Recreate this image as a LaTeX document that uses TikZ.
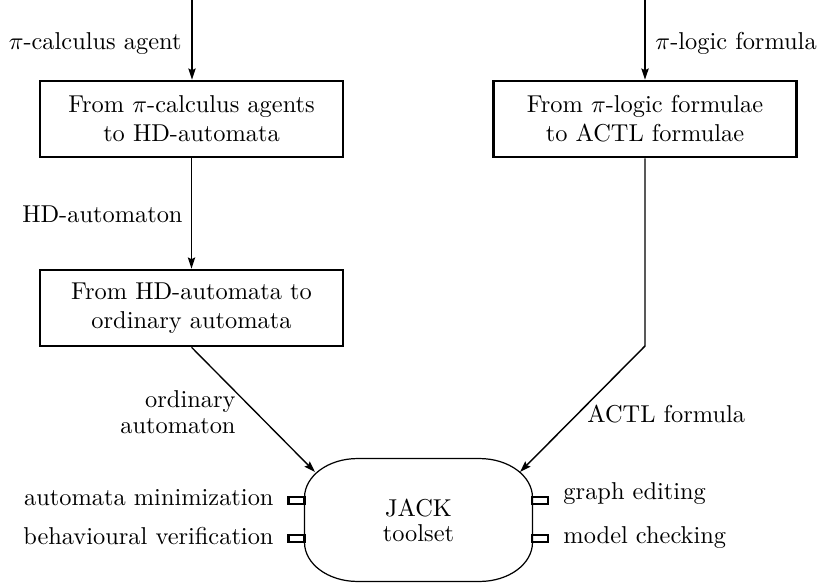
\documentclass[tikz,border=0pt]{standalone}
\usetikzlibrary{arrows.meta}
\begin{document}
\begin{tikzpicture}[x=0.41pt,y=0.41pt,
  box/.style={draw,line width=1pt,minimum width=124.2pt,minimum height=31.2pt,align=center,inner sep=0pt},
  arr/.style={line width=0.65pt,-{Stealth[length=4.6pt,width=3pt,inset=0.7pt]}},
  ln/.style={line width=0.5pt},
  port/.style={draw,line width=1pt,minimum width=6.6pt,minimum height=2.9pt,inner sep=0pt},
  lbl/.style={inner sep=0pt}]
\useasboundingbox (0,0) rectangle (817,-582);
% boxes
\node[box] (b1) at (191.5,-119) {From $\pi$-calculus agents\\to HD-automata};
\node[box] (b2) at (645,-119) {From $\pi$-logic formulae\\to ACTL formulae};
\node[box] (b3) at (191.5,-308) {From HD-automata to\\ordinary automata};
% JACK oval
\node[minimum width=93.07pt,minimum height=50pt,inner sep=0pt,align=center] (jack) at (418.5,-520) {JACK\\[-1.8pt]toolset};
\draw[ln] ([xshift=21.73pt]jack.north west) -- ([xshift=-21.73pt]jack.north east)
  arc[start angle=90,end angle=0,x radius=21.73pt,y radius=16pt]
  -- ([yshift=16pt]jack.south east)
  arc[start angle=0,end angle=-90,x radius=21.73pt,y radius=16pt]
  -- ([xshift=21.73pt]jack.south west)
  arc[start angle=270,end angle=180,x radius=21.73pt,y radius=16pt]
  -- ([yshift=-16pt]jack.north west)
  arc[start angle=180,end angle=90,x radius=21.73pt,y radius=16pt] -- cycle;
% ports
\node[port] (p1) at (296.5,-500.5) {};
\node[port] (p2) at (296.5,-538.5) {};
\node[port] (p3) at (540,-500.5) {};
\node[port] (p4) at (540,-538.5) {};
\node[lbl,anchor=base east] (l1) at (274,-505) {automata minimization};
\node[lbl,anchor=base east] (l2) at (274,-544) {behavioural verification};
\node[lbl,anchor=base west] (l3) at (563,-499) {graph editing};
\node[lbl,anchor=base west] (l4) at (563,-543) {model checking};
% inputs
\coordinate (in1) at (192,0);
\coordinate (in2) at (645,0);
\draw[arr] (in1) -- (in1 |- b1.north);
\draw[arr] (in2) -- (in2 |- b2.north);
\node[lbl,anchor=base east] (t1) at (182,-50) {$\pi$-calculus agent};
\node[lbl,anchor=base west] (t2) at (655,-50) {$\pi$-logic formula};
% left chain
\draw[arr] (b1.south) -- (b3.north);
\node[lbl,anchor=base east] (t3) at (183,-222) {HD-automaton};
\coordinate (tl) at (315,-472);
\coordinate (tr) at (520,-472);
\draw[arr,line width=0.55pt] (b3.south) -- (tl);
\node[lbl,anchor=north east,align=right] (t4) at (236,-390) {ordinary\\[-1.5pt]automaton};
% right chain
\coordinate (bend) at (645,-346);
\draw[arr,line width=0.6pt] (b2.south) -- (bend) -- (tr);
\node[lbl,anchor=base west] (t5) at (587,-422) {ACTL formula};
\end{tikzpicture}
\end{document}
